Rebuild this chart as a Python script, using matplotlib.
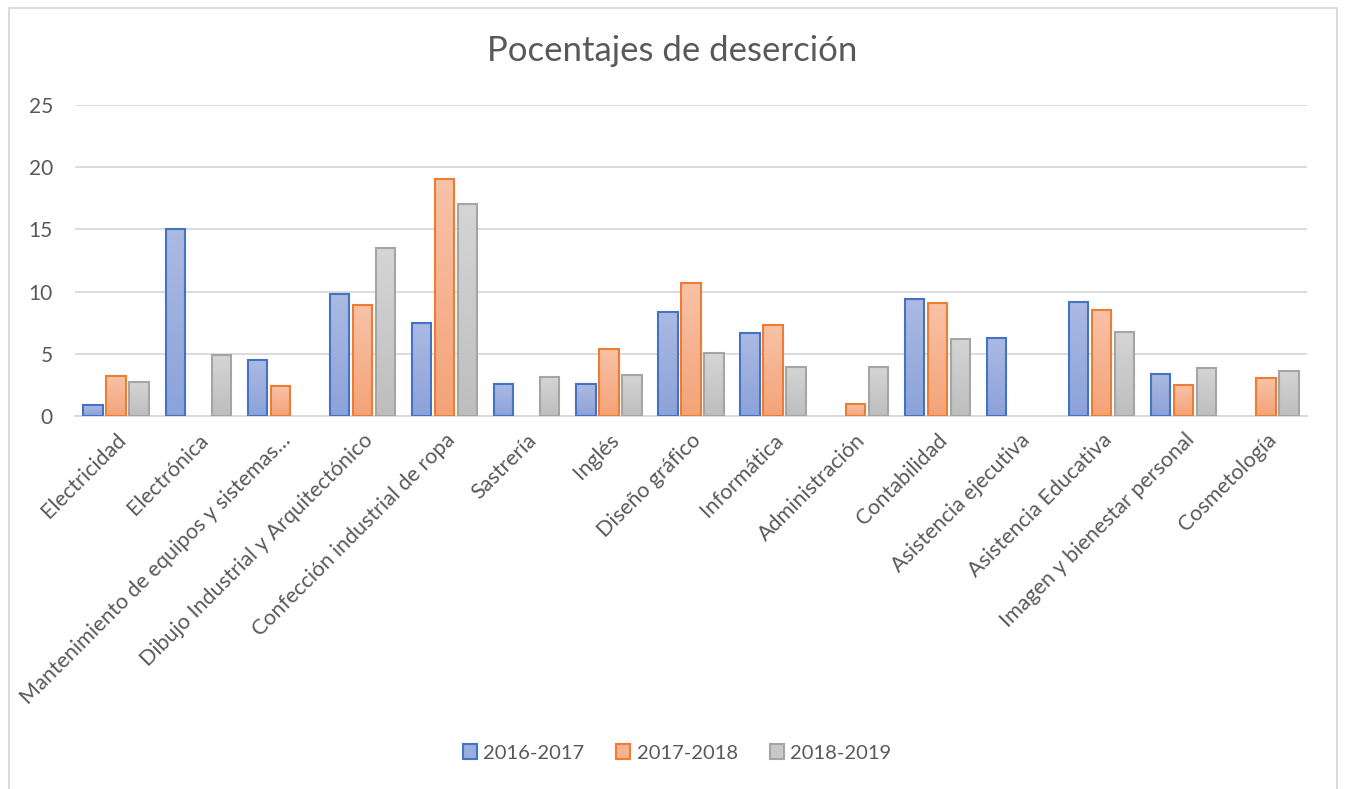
import matplotlib
matplotlib.use("Agg")
import matplotlib.pyplot as plt
import numpy as np
from matplotlib.colors import LinearSegmentedColormap
from matplotlib.patches import Patch, Rectangle

categories = ["Electricidad", "Electrónica", "Mantenimiento de equipos y sistemas…",
              "Dibujo Industrial y Arquitectónico", "Confección industrial de ropa",
              "Sastrería", "Inglés", "Diseño gráfico", "Informática", "Administración",
              "Contabilidad", "Asistencia ejecutiva", "Asistencia Educativa",
              "Imagen y bienestar personal", "Cosmetología"]
s2016 = [0.9, 15.0, 4.5, 9.8, 7.45, 2.57, 2.57, 8.4, 6.7, 0, 9.4, 6.24, 9.2, 3.38, 0]
s2017 = [3.2, 0, 2.4, 8.9, 19.05, 0, 5.4, 10.7, 7.3, 0.94, 9.08, 0, 8.52, 2.49, 3.03]
s2018 = [2.75, 4.9, 0, 13.5, 17.05, 3.13, 3.3, 5.06, 3.96, 3.94, 6.19, 0, 6.75, 3.89, 3.64]
series_names = ["2016-2017", "2017-2018", "2018-2019"]
yticks = [0, 5, 10, 15, 20, 25]

edge_cols = ["#4472C4", "#ED7D31", "#A5A5A5"]
grad = [("#8CA2D9", "#ABBAE2"), ("#F4A378", "#F8C2A7"), ("#BEBEBE", "#D5D5D5")]
legend_fc = ["#9BAEDD", "#F6B290", "#C9C9C9"]

plt.rcParams['font.family'] = ['Lato', 'DejaVu Sans']
txt = "#595959"

fig = plt.figure(figsize=(13.45, 7.89), dpi=100)
W, H = 1345, 789
ax = fig.add_axes([75 / W, (H - 416) / H, (1307 - 75) / W, (416 - 105) / H])

x = np.arange(len(categories))
offs = [-0.28, 0.0, 0.28]
bw = 0.235
data = [s2016, s2017, s2018]
for k, vals in enumerate(data):
    bars = ax.bar(x + offs[k], vals, bw, facecolor="none", edgecolor=edge_cols[k],
                  linewidth=1.5, zorder=3)
    cmap = LinearSegmentedColormap.from_list("g%d" % k, list(grad[k]))
    g = np.linspace(0, 1, 64).reshape(-1, 1)
    for b, v in zip(bars, vals):
        if v <= 0:
            b.set_visible(False)
            continue
        x0 = b.get_x()
        ax.imshow(g, cmap=cmap, origin="lower", aspect="auto",
                  extent=[x0, x0 + b.get_width(), 0, b.get_height()],
                  interpolation="bicubic", zorder=2)

ax.set_xlim(-0.5, len(categories) - 0.5)
ax.set_ylim(0, 25)
ax.set_aspect("auto")
ax.set_yticks(yticks)
ax.yaxis.grid(True, color="#D9D9D9", linewidth=1.3, zorder=0)
ax.set_axisbelow(True)
for s in ["top", "right", "left"]:
    ax.spines[s].set_visible(False)
ax.spines["bottom"].set_color("#D9D9D9")
ax.spines["bottom"].set_linewidth(1.3)
ax.tick_params(axis="both", length=0, colors=txt)
ax.tick_params(axis="y", pad=16, labelsize=15)
ax.set_xticks(x)
ax.set_xticklabels(categories, rotation=45, ha="right", rotation_mode="anchor")
ax.tick_params(axis="x", pad=10, labelsize=15.5)

fig.text(672 / W, 1 - 51 / H, "Pocentajes de deserción", ha="center", va="center",
         fontsize=25, color=txt)

handles = [Patch(facecolor=legend_fc[k], edgecolor=edge_cols[k], linewidth=1.5)
           for k in range(3)]
fig.legend(handles, series_names, loc="center", bbox_to_anchor=(677 / W, 1 - 753 / H),
           ncol=3, frameon=False, fontsize=14.5, labelcolor=txt, handlelength=0.7,
           handleheight=0.7, handletextpad=0.3, columnspacing=1.6)

fig.patches.append(Rectangle((8.5 / W, -0.05), (1337 - 8.5) / W, 1.05 - 7.5 / H,
                             transform=fig.transFigure, fill=False,
                             edgecolor="#D9D9D9", linewidth=1.3))

fig.savefig("out.png", dpi=100)
